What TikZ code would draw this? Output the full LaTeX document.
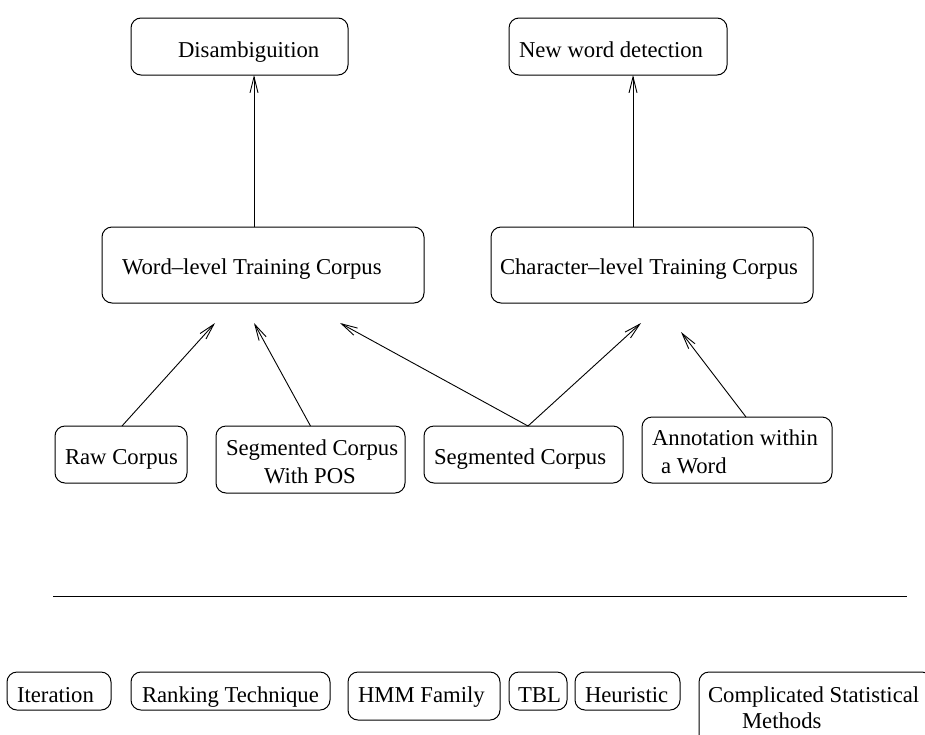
\documentclass[tikz,border=0pt]{standalone}
\usepackage{fontspec}
\setmainfont{Liberation Serif}
\usetikzlibrary{arrows.meta}
\tikzset{
  boxn/.style={draw, line width=1pt, rounded corners=10pt, inner sep=0pt, outer sep=0pt},
  txt/.style={anchor=base west, inner sep=0pt, outer sep=0pt, font=\fontsize{22.7}{28}\selectfont},
  arr/.style={line width=0.9pt, -{Straight Barb[length=16pt,width=8pt,line width=0.9pt]}}
}
\begin{document}
\begin{tikzpicture}[x=1pt,y=-1pt]
\useasboundingbox (0,0) rectangle (925,734);
\clip (0,0) rectangle (925,734);
% top row
\node[boxn, minimum width=217pt, minimum height=57pt] (dis) at (239.5,46.5) {};
\node[txt] (dist) at (178,57) {Disambiguition};
\node[boxn, minimum width=218pt, minimum height=57pt] (nw) at (618,46.5) {};
\node[txt] (nwt) at (519,57) {New word detection};
% middle row
\node[boxn, minimum width=322pt, minimum height=76pt] (wl) at (263,265) {};
\node[txt] (wlt) at (122,274) {Word--level Training Corpus};
\node[boxn, minimum width=322pt, minimum height=76pt] (ch) at (652,265) {};
\node[txt] (cht) at (500,274) {Character--level Training Corpus};
% lower row
\node[boxn, minimum width=132pt, minimum height=57pt] (raw) at (121,454.5) {};
\node[txt] (rawt) at (65,464) {Raw Corpus};
\node[boxn, minimum width=189pt, minimum height=67pt] (sp) at (310.5,459.5) {};
\node[txt] (spt1) at (226,455) {Segmented Corpus};
\node[txt] (spt2) at (264,483) {With POS};
\node[boxn, minimum width=199pt, minimum height=57pt] (seg) at (523.5,454.5) {};
\node[txt] (segt) at (434,464) {Segmented Corpus};
\node[boxn, minimum width=190pt, minimum height=66pt] (ann) at (737,450) {};
\node[txt] (annt1) at (652,445) {Annotation within};
\node[txt] (annt2) at (661,473) {a Word};
% connectors
\draw[arr] ([xshift=-9pt]wl.north) -- ([xshift=-9pt]wl.north |- dis.south);
\draw[arr] ([xshift=-19pt]ch.north) -- ([xshift=-19pt]ch.north |- nw.south);
\draw[arr] ([xshift=1pt]raw.north) -- ([shift={(-48,20)}]wl.south);
\draw[arr] (sp.north) -- ([shift={(-9,20)}]wl.south);
\draw[arr] ([xshift=4.5pt]seg.north) -- ([shift={(77,20)}]wl.south);
\draw[arr] ([xshift=4.5pt]seg.north) -- ([shift={(-11,20)}]ch.south);
\draw[arr] ([xshift=9pt]ann.north) -- ([shift={(29,29)}]ch.south);
% separator
\draw[line width=1pt] (53,596) -- (907,596);
% bottom row
\node[boxn, minimum width=104pt, minimum height=38pt] (it) at (59,691) {};
\node[txt] (itt) at (17,702) {Iteration};
\node[boxn, minimum width=199pt, minimum height=38pt] (rk) at (230.5,691) {};
\node[txt] (rkt) at (142,702) {Ranking Technique};
\node[boxn, minimum width=152pt, minimum height=48pt] (hmm) at (424,696) {};
\node[txt] (hmmt) at (358,702) {HMM Family};
\node[boxn, minimum width=58pt, minimum height=38pt] (tbl) at (538,691) {};
\node[txt] (tblt) at (518,702) {TBL};
\node[boxn, minimum width=105pt, minimum height=38pt] (heu) at (627.5,691) {};
\node[txt] (heut) at (585,702) {Heuristic};
\node[boxn, minimum width=233pt, minimum height=78pt] (cs) at (815.5,711) {};
\node[txt] (cst1) at (708,702) {Complicated Statistical};
\node[txt] (cst2) at (742,728) {Methods};
\end{tikzpicture}
\end{document}
